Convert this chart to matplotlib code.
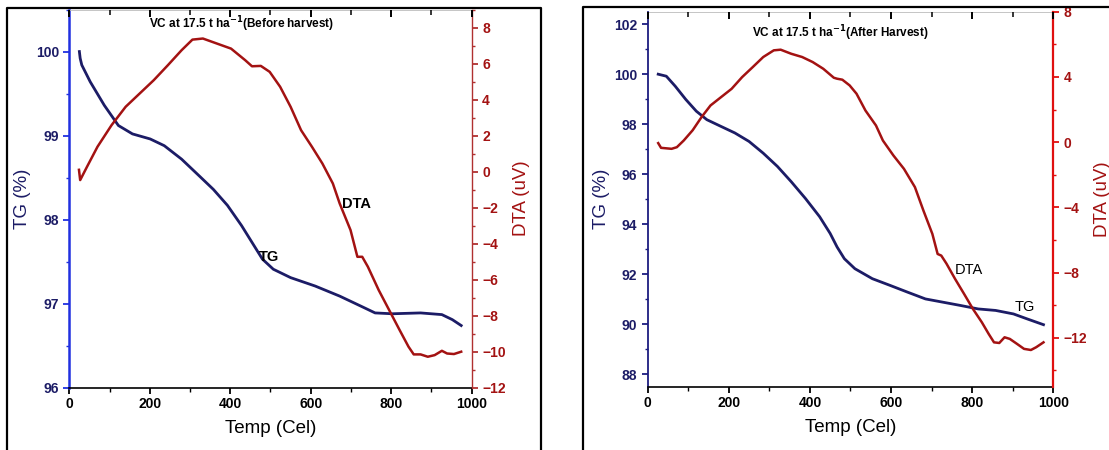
import matplotlib
matplotlib.use('Agg')
import matplotlib.pyplot as plt
from matplotlib.lines import Line2D
from matplotlib.ticker import MultipleLocator

plt.rcParams['font.family'] = ['Liberation Sans Narrow', 'Liberation Sans', 'DejaVu Sans']
plt.rcParams['font.weight'] = 'bold'

# Before harvest (left panel)
temp_tg_before = [25, 27, 31, 52, 87, 122, 157, 201, 236, 279, 323, 358, 393, 428,
                  454, 480, 507, 550, 611, 672, 725, 760, 803, 873, 926, 952, 974]
tg_before = [100.0, 99.92, 99.84, 99.64, 99.36, 99.12, 99.02, 98.96, 98.88, 98.72,
             98.52, 98.36, 98.17, 97.93, 97.73, 97.53, 97.41, 97.31, 97.21, 97.09,
             96.97, 96.89, 96.88, 96.89, 96.87, 96.81, 96.74]
temp_dta_before = [24, 27, 44, 70, 105, 140, 175, 210, 245, 279, 306, 332, 367, 402,
                   437, 454, 476, 498, 524, 550, 576, 603, 629, 655, 672, 699, 716,
                   728, 742, 769, 795, 821, 843, 856, 873, 891, 908, 926, 939, 956, 974]
dta_before = [0.1, -0.47, 0.27, 1.38, 2.58, 3.6, 4.34, 5.08, 5.91, 6.74, 7.33, 7.39,
              7.11, 6.83, 6.19, 5.85, 5.87, 5.54, 4.71, 3.6, 2.3, 1.38, 0.45, -0.66,
              -1.77, -3.25, -4.73, -4.73, -5.28, -6.58, -7.69, -8.8, -9.72, -10.15,
              -10.15, -10.28, -10.19, -9.95, -10.1, -10.13, -10.0]

# After harvest (right panel)
temp_tg_after = [26, 46, 68, 94, 120, 146, 181, 215, 250, 285, 320, 354, 389, 424,
                 450, 467, 485, 511, 554, 598, 641, 685, 728, 771, 815, 858, 902,
                 936, 976]
tg_after = [100.0, 99.92, 99.52, 98.99, 98.52, 98.18, 97.91, 97.65, 97.31, 96.84,
            96.31, 95.7, 95.03, 94.3, 93.63, 93.09, 92.62, 92.22, 91.82, 91.55,
            91.28, 91.01, 90.88, 90.75, 90.61, 90.55, 90.41, 90.21, 89.98]
temp_dta_after = [26, 33, 59, 72, 89, 111, 133, 155, 181, 207, 233, 259, 285, 311,
                  328, 354, 381, 407, 433, 459, 467, 480, 498, 515, 537, 563, 580,
                  606, 632, 659, 680, 702, 715, 724, 737, 758, 780, 802, 824, 841,
                  854, 867, 880, 893, 911, 928, 945, 958, 976]
dta_after = [-0.06, -0.35, -0.41, -0.31, 0.1, 0.73, 1.54, 2.25, 2.76, 3.27, 3.99,
             4.6, 5.22, 5.63, 5.67, 5.42, 5.22, 4.91, 4.5, 3.95, 3.89, 3.83, 3.48,
             2.97, 1.94, 1.02, 0.1, -0.82, -1.64, -2.76, -4.2, -5.63, -6.86, -6.96,
             -7.46, -8.39, -9.3, -10.23, -11.05, -11.77, -12.28, -12.32, -11.97,
             -12.07, -12.38, -12.68, -12.75, -12.58, -12.28]

TG_COLOR = '#1c1c66'
DTA_COLOR = '#a31212'


def draw_panel(rect, temp_tg, tg, temp_dta, dta, tg_lim, tg_step, dta_lim, dta_step,
               title, title_pos, label_pos, label_bold, left_spine, right_spine):
    ax = fig.add_axes(rect)
    ax2 = ax.twinx()

    ax.plot(temp_tg, tg, color=TG_COLOR, lw=2.0, zorder=3)
    ax2.plot(temp_dta, dta, color=DTA_COLOR, lw=1.8)

    ax.set_xlim(0, 1000)
    ax.set_ylim(*tg_lim)
    ax2.set_ylim(*dta_lim)
    ax.xaxis.set_major_locator(MultipleLocator(200))
    ax.xaxis.set_minor_locator(MultipleLocator(100))
    ax.yaxis.set_major_locator(MultipleLocator(tg_step))
    ax.yaxis.set_minor_locator(MultipleLocator(tg_step / 2))
    ax2.yaxis.set_major_locator(MultipleLocator(dta_step))
    ax2.yaxis.set_minor_locator(MultipleLocator(dta_step / 2))

    # spines
    ax.spines['left'].set_color(left_spine[0])
    ax.spines['left'].set_linewidth(left_spine[1])
    ax2.spines['left'].set_visible(False)
    ax2.spines['right'].set_color(right_spine[0])
    ax2.spines['right'].set_linewidth(right_spine[1])
    ax.spines['right'].set_visible(False)
    ax.spines['bottom'].set_linewidth(1.2)
    ax2.spines['bottom'].set_visible(False)
    ax.spines['top'].set_color('#bbbbbb')
    ax.spines['top'].set_linewidth(0.6)
    ax2.spines['top'].set_visible(False)

    # ticks
    ax.tick_params(axis='x', which='both', direction='out', labelsize=10, pad=3)
    ax.tick_params(axis='x', which='major', length=4, width=1.3)
    ax.tick_params(axis='x', which='minor', length=3, width=1.0)
    ax.tick_params(axis='y', which='both', colors=left_spine[0], labelcolor=TG_COLOR,
                   labelsize=10)
    ax.tick_params(axis='y', which='major', length=4, width=1.3)
    ax.tick_params(axis='y', which='minor', length=2.5, width=1.0)
    ax2.tick_params(axis='y', which='both', colors=right_spine[0],
                    labelcolor=DTA_COLOR, labelsize=10)
    ax2.tick_params(axis='y', which='major', length=4, width=1.3)
    ax2.tick_params(axis='y', which='minor', length=2.5, width=1.0)

    # top axis: inward ticks, no labels
    ax3 = ax.twiny()
    ax3.set_xlim(ax.get_xlim())
    ax3.xaxis.set_major_locator(MultipleLocator(200))
    ax3.xaxis.set_minor_locator(MultipleLocator(100))
    ax3.tick_params(axis='x', which='both', direction='in', top=True,
                    labeltop=False, color='black')
    ax3.tick_params(axis='x', which='major', length=5, width=1.4)
    ax3.tick_params(axis='x', which='minor', length=3.5, width=1.1)
    ax3.yaxis.set_visible(False)
    for side in ('top', 'left', 'right', 'bottom'):
        ax3.spines[side].set_visible(False)

    ax.set_xlabel('Temp (Cel)', fontsize=13.5, fontweight='normal', labelpad=6)
    ax.set_ylabel('TG (%)', fontsize=13.5, fontweight='normal', color=TG_COLOR,
                  labelpad=3)
    ax2.set_ylabel('DTA (uV)', fontsize=13.5, fontweight='normal', color=DTA_COLOR,
                   labelpad=5)

    ax.text(title_pos[0], title_pos[1], title, transform=ax.get_xaxis_transform(),
            ha='center', va='center', fontsize=8.5, fontweight='bold')
    weight = 'bold' if label_bold else 'normal'
    ax2.text(label_pos[0][0], label_pos[0][1], 'DTA', ha='left', va='center',
             fontsize=10.5, fontweight=weight)
    ax.text(label_pos[1][0], label_pos[1][1], 'TG', ha='left', va='center',
            fontsize=10.5, fontweight=weight)
    return ax, ax2


fig = plt.figure(figsize=(11.09, 4.5), dpi=100)

draw_panel([0.0625, 0.1384, 0.3628, 0.8404], temp_tg_before, tg_before,
           temp_dta_before, dta_before, (96, 100.5), 1, (-12, 9), 2,
           r'VC at 17.5 t ha$^{\mathbf{-1}}$(Before harvest)', (429, 0.96),
           ((677, -1.8), (472, 97.55)), True, ('#2030e0', 1.8), ('#b03030', 1.0))

draw_panel([0.584, 0.1407, 0.3657, 0.8333], temp_tg_after, tg_after,
           temp_dta_after, dta_after, (87.5, 102.5), 2, (-15, 8), 4,
           r'VC at 17.5 t ha$^{\mathbf{-1}}$(After Harvest)', (474, 0.943),
           ((757, -7.87), (906, 90.68)), False, ('#1c1c80', 1.3), ('#e01010', 1.6))

# outer frames around each panel
fig.add_artist(Line2D([0.0066, 0.0066, 0.4878, 0.4878], [0.0, 0.9816, 0.9816, 0.0],
                      color='black', lw=1.6, transform=fig.transFigure))
fig.add_artist(Line2D([0.5254, 0.5254, 1.0], [0.0, 0.985, 0.985],
                      color='black', lw=1.6, transform=fig.transFigure))

fig.savefig('out.png', dpi=100)
